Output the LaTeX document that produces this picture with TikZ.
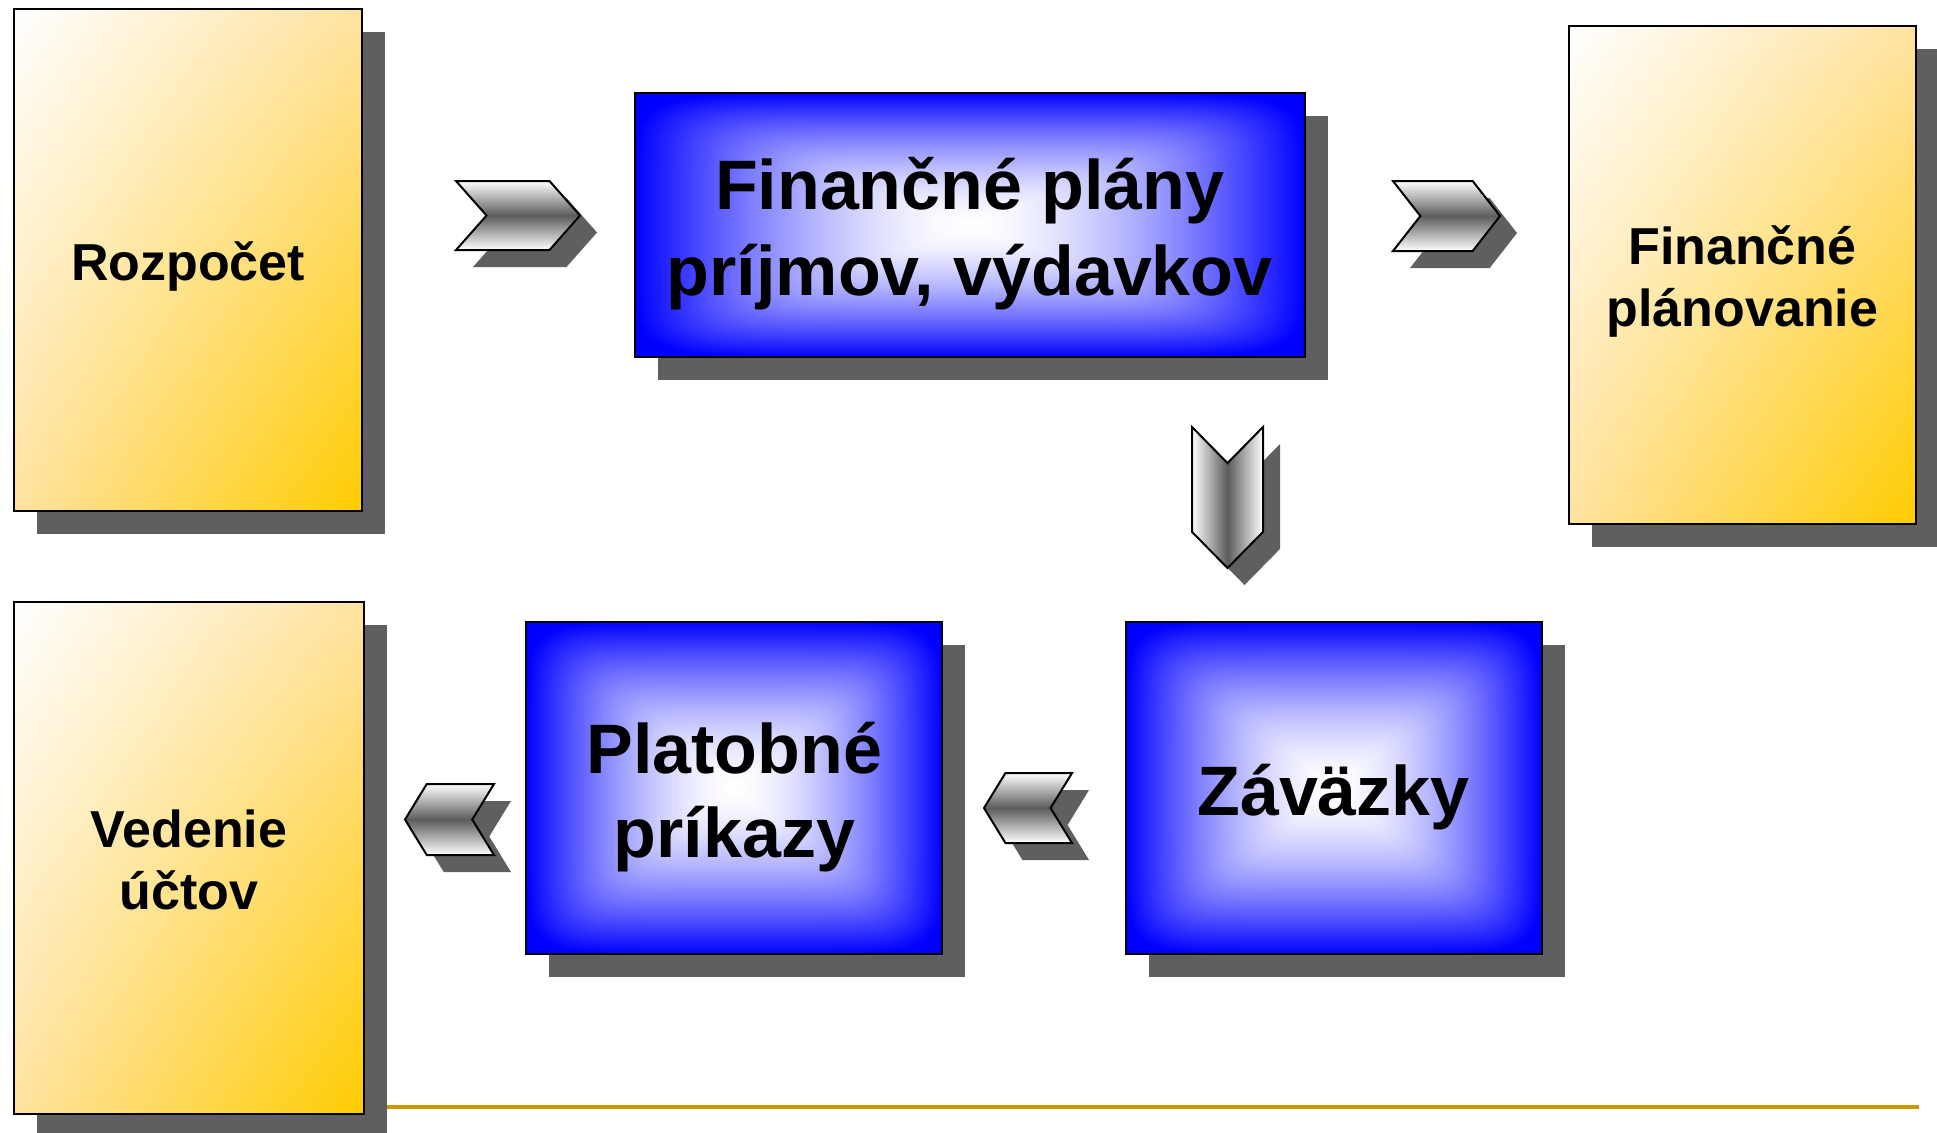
\documentclass[tikz,border=0pt]{standalone}
\usepackage{fontspec}
\setmainfont{Liberation Sans}
\usetikzlibrary{positioning,shapes,shapes.symbols,shadows,shadings}
\definecolor{planblue}{RGB}{0,0,255}
\definecolor{shadowgray}{RGB}{95,95,95}
\definecolor{chevgray}{RGB}{92,92,92}
\definecolor{ygold}{RGB}{255,204,0}
\definecolor{ymid}{RGB}{255,226,160}
\definecolor{linegold}{RGB}{204,153,0}

% white in the middle, blue towards the edges of the box
\pgfdeclarefunctionalshading{rectglow}{\pgfpoint{-50bp}{-50bp}}{\pgfpoint{50bp}{50bp}}{}{
abs 25 div 8 exp exch abs 25 div 8 exp add 0.125 exp dup 1 gt {pop 1} if 1.6 exp 1 exch sub dup 1
}
% line struts, so that every line is as high as in the slide
\newcommand{\ystrut}{\rule[-5.2pt]{0pt}{31.2pt}}
\newcommand{\bstrut}{\rule[-7pt]{0pt}{42pt}}

\begin{document}
\begin{tikzpicture}[
x=0.5pt,y=-0.5pt,
boxshadow/.style={
	drop shadow={shadow xshift=11.5pt,shadow yshift=-11.5pt,fill=shadowgray,opacity=1}
},
yellowbox/.style={
	draw=black,
	line width=1pt,
	upper left=white,
	upper right=ymid,
	lower left=ymid,
	lower right=ygold,
	boxshadow,
	align=center,
	font=\fontsize{26}{31.2}\selectfont\bfseries
},
bluebox/.style={
	draw=black,
	line width=1pt,
	shade,
	shading=rectglow,
	boxshadow,
	align=center,
	font=\fontsize{35}{42}\selectfont\bfseries
},
chevron/.style={
	signal,
	draw=black,
	line width=1pt,
	inner sep=0pt,
	drop shadow={shadow xshift=8.5pt,shadow yshift=-8.5pt,fill=shadowgray,opacity=1}
},
hchevron/.style={chevron,top color=white,bottom color=white,middle color=chevgray},
vchevron/.style={chevron,left color=white,right color=white,middle color=chevgray}
]
\useasboundingbox (0,0) rectangle (1937,1132);

% line at the bottom
\draw[linegold,line width=2pt] (380,1107) -- (1919,1107);

% boxes
\node[yellowbox,minimum width=174pt,minimum height=251.4pt] (rozpocet) at (188,260) {\ystrut Rozpočet};
\node[bluebox,minimum width=334.7pt,minimum height=132.2pt] (plany) at (969.8,224.8) {\bstrut Finančné plány\\\bstrut príjmov, výdavkov};
\node[yellowbox,minimum width=173.6pt,minimum height=249pt] (planovanie) at (1742.4,274.9) {\ystrut Finančné\\\ystrut plánovanie};
\node[yellowbox,minimum width=175.4pt,minimum height=256.3pt] (vedenie) at (189,857.9) {\ystrut Vedenie\\\ystrut účtov};
\node[bluebox,minimum width=208pt,minimum height=166pt] (prikazy) at (734.4,787.5) {\bstrut Platobné\\\bstrut príkazy};
\node[bluebox,minimum width=208pt,minimum height=166pt] (zavazky) at (1333.5,787.5) {\bstrut Záväzky};

% chevrons
\node[hchevron,signal from=west,signal to=east,signal pointer angle=97,minimum width=62pt,minimum height=34.5pt] (s1) at (518,215.5) {};
\node[hchevron,signal from=west,signal to=east,signal pointer angle=104,minimum width=53.5pt,minimum height=35pt] (s2) at (1446.5,216) {};
\node[vchevron,signal from=north,signal to=south,signal pointer angle=89,minimum width=35.5pt,minimum height=34.4pt] (s3) at (1227.5,497.5) {};
\node[hchevron,signal from=east,signal to=west,signal pointer angle=117,minimum width=44pt,minimum height=35pt] (s4) at (1028,808) {};
\node[hchevron,signal from=east,signal to=west,signal pointer angle=117,minimum width=44.5pt,minimum height=35.5pt] (s5) at (449.5,819.5) {};
\end{tikzpicture}
\end{document}
